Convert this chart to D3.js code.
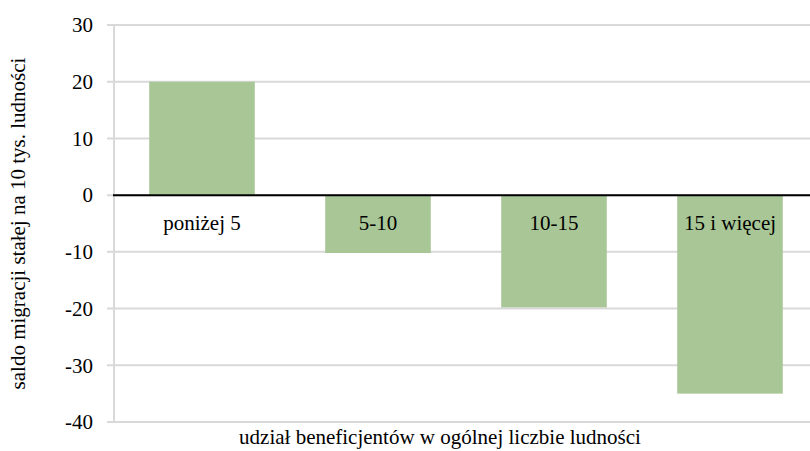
<!DOCTYPE html>
<html>
<head>
<meta charset="utf-8">
<script src="https://d3js.org/d3.v7.min.js"></script>
<style>
  body { margin: 0; background: #fff; font-family: 'Liberation Serif', serif; }
</style>
</head>
<body>
<svg id="chart" width="810" height="451"></svg>
<script>
const categories = ['poniżej 5', '5-10', '10-15', '15 i więcej'];
const values = [20, -10.2, -19.8, -35];
const yTicks = [-40, -30, -20, -10, 0, 10, 20, 30];

const svg = d3.select('#chart');
const plot = {left: 114, right: 818, top: 25, bottom: 422};
const fontFamily = "'Liberation Serif', serif";
const fontSize = '21px';

const x = d3.scaleBand().domain(categories).range([plot.left, plot.right]).paddingInner(0.4).paddingOuter(0.2);
const y = d3.scaleLinear().domain([-40, 30]).range([plot.bottom, plot.top]);

// gridlines
svg.append('g')
  .selectAll('line')
  .data(yTicks)
  .join('line')
  .attr('x1', 107).attr('x2', 810)
  .attr('y1', d => y(d)).attr('y2', d => y(d))
  .attr('stroke', '#d9d9d9').attr('stroke-width', 2);

// vertical axis line
svg.append('line')
  .attr('x1', plot.left).attr('x2', plot.left)
  .attr('y1', plot.top).attr('y2', plot.bottom)
  .attr('stroke', '#d9d9d9').attr('stroke-width', 2);

// tick labels
svg.append('g')
  .selectAll('text')
  .data(yTicks)
  .join('text')
  .attr('x', 93).attr('y', d => y(d))
  .attr('dy', '0.35em')
  .attr('text-anchor', 'end')
  .style('font-family', fontFamily)
  .style('font-size', fontSize)
  .text(d => d);

// bars
svg.append('g')
  .selectAll('rect')
  .data(values)
  .join('rect')
  .attr('x', (d, i) => x(categories[i]))
  .attr('width', x.bandwidth())
  .attr('y', d => y(Math.max(0, d)))
  .attr('height', d => Math.abs(y(d) - y(0)))
  .attr('fill', '#a9c796');

// zero line
svg.append('line')
  .attr('x1', plot.left - 1).attr('x2', 810)
  .attr('y1', y(0)).attr('y2', y(0))
  .attr('stroke', '#000').attr('stroke-width', 2);

// category labels
svg.append('g')
  .selectAll('text')
  .data(categories)
  .join('text')
  .attr('x', d => x(d) + x.bandwidth() / 2)
  .attr('y', y(0) + 35)
  .attr('text-anchor', 'middle')
  .style('font-family', fontFamily)
  .style('font-size', fontSize)
  .text(d => d);

// axis titles
svg.append('text')
  .attr('transform', `translate(25,${(plot.top + plot.bottom) / 2}) rotate(-90)`)
  .attr('text-anchor', 'middle')
  .style('font-family', fontFamily)
  .style('font-size', fontSize)
  .text('saldo migracji stałej na 10 tys. ludności');

svg.append('text')
  .attr('x', 440).attr('y', 444)
  .attr('text-anchor', 'middle')
  .style('font-family', fontFamily)
  .style('font-size', fontSize)
  .text('udział beneficjentów w ogólnej liczbie ludności');
</script>
</body>
</html>
